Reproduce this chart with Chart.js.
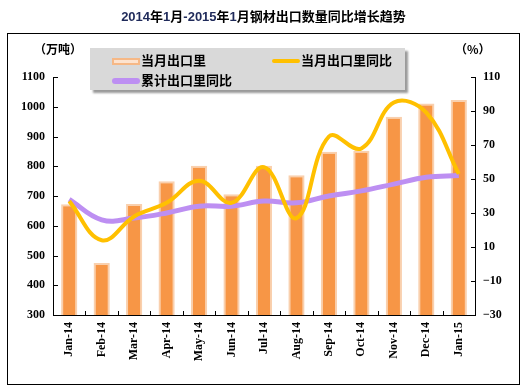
<!DOCTYPE html>
<html>
<head>
<meta charset="utf-8">
<script src="https://cdn.jsdelivr.net/npm/chart.js@4.4.1/dist/chart.umd.min.js"></script>
<style>
  body { margin: 0; background: #fff; }
  #wrap { position: relative; width: 527px; height: 390px; overflow: hidden; font-family: "Noto Sans CJK SC", sans-serif; }
  #chart { position: absolute; left: 0; top: 0; }
  .frame { position: absolute; left: 7px; top: 33px; width: 513px; height: 352px; border: 1px solid #000; box-sizing: border-box; }
  .title { position: absolute; left: 0; top: 6px; width: 527px; text-align: center; font-weight: bold; font-size: 13px; color: #000; }
  .title .num { font-family: "Liberation Sans", Arial, sans-serif; color: #1f2a5a; }
  .unit { position: absolute; top: 40px; font-weight: bold; font-size: 12px; }
  .legend { position: absolute; left: 90px; top: 48px; width: 315px; height: 42px; background: #d9d9d9; box-shadow: 3px 3px 2px #9a9a9a; }
  .item { position: absolute; font-weight: bold; font-size: 13px; line-height: 16px; white-space: nowrap; }
  .sw { display: inline-block; width: 28px; vertical-align: middle; margin-right: 1px; box-sizing: border-box; }
</style>
</head>
<body>
<div id="wrap">
  <canvas id="chart" width="527" height="390"></canvas>
  <div class="frame"></div>
  <div class="title"><span class="num">2014</span>年<span class="num">1</span>月<span class="num">-2015</span>年<span class="num">1</span>月钢材出口数量同比增长趋势</div>
  <div class="unit" style="left:34px;">（万吨）</div>
  <div class="unit" style="left:455px;">（%）</div>
  <div class="legend">
    <div class="item" style="left:22px; top:4px;"><span class="sw" style="height:7px; background:#fde3cf; border:2px solid #f6b886;"></span>当月出口里</div>
    <div class="item" style="left:182px; top:4px;"><span class="sw" style="height:4px; background:#ffc000; border-radius:2px;"></span>当月出口里同比</div>
    <div class="item" style="left:22px; top:24px;"><span class="sw" style="height:6px; background:#bd8ff2; border-radius:3px;"></span>累计出口里同比</div>
  </div>
</div>
<script>
// chart data
const months = ['Jan-14', 'Feb-14', 'Mar-14', 'Apr-14', 'May-14', 'Jun-14', 'Jul-14',
                'Aug-14', 'Sep-14', 'Oct-14', 'Nov-14', 'Dec-14', 'Jan-15'];
const monthlyExport = [672, 475, 673, 750, 802, 706, 802, 770, 849, 852, 966, 1011, 1023]; // 万吨
const monthlyYoy = [37, 14, 28, 36, 49, 36, 57, 27, 75, 68, 95, 89, 53];                    // %
const cumulativeYoy = [38, 26, 27, 30, 34, 34, 37, 36, 40, 43, 47, 51, 52];                 // %
const leftTicks = [300, 1100, 100];   // min, max, step
const rightTicks = [-30, 110, 20];

const tickFont = { family: '"Liberation Serif", "Times New Roman", serif', size: 12, weight: 'bold' };

// inward tick marks + axis lines, like the old excel look
const axisPlugin = {
    id: 'axisLines',
    afterDraw(chart) {
        const ctx = chart.ctx;
        const a = chart.chartArea;
        const y = chart.scales.y, y1 = chart.scales.y1, x = chart.scales.x;
        ctx.save();
        ctx.strokeStyle = '#000';
        ctx.lineWidth = 1;
        ctx.beginPath();
        ctx.moveTo(a.left + 0.5, a.top); ctx.lineTo(a.left + 0.5, a.bottom + 0.5);
        ctx.lineTo(a.right + 0.5, a.bottom + 0.5); ctx.lineTo(a.right + 0.5, a.top);
        y.ticks.forEach(t => {
            const py = Math.round(y.getPixelForValue(t.value)) + 0.5;
            ctx.moveTo(a.left, py); ctx.lineTo(a.left + 5, py);
        });
        y1.ticks.forEach(t => {
            const py = Math.round(y1.getPixelForValue(t.value)) + 0.5;
            ctx.moveTo(a.right - 4, py); ctx.lineTo(a.right + 1, py);
        });
        for (let i = 0; i < months.length - 1; i++) {
            const px = Math.round((x.getPixelForValue(i) + x.getPixelForValue(i + 1)) / 2) + 0.5;
            ctx.moveTo(px, a.bottom); ctx.lineTo(px, a.bottom - 4);
        }
        ctx.stroke();
        ctx.restore();
    }
};

new Chart(document.getElementById('chart'), {
    type: 'bar',
    data: {
        labels: months,
        datasets: [{
            type: 'line',
            label: '当月出口里同比',
            data: monthlyYoy,
            yAxisID: 'y1',
            borderColor: '#ffc000',
            borderWidth: 4,
            pointRadius: 0,
            tension: 0.4,
            order: 1
        }, {
            type: 'line',
            label: '累计出口里同比',
            data: cumulativeYoy,
            yAxisID: 'y1',
            borderColor: '#bd8ff2',
            borderWidth: 5,
            pointRadius: 0,
            tension: 0.4,
            order: 2
        }, {
            label: '当月出口里',
            data: monthlyExport,
            yAxisID: 'y',
            backgroundColor: '#f79646',
            borderColor: '#f9d0ae',
            borderWidth: 2,
            borderSkipped: false,
            barPercentage: 0.5,
            categoryPercentage: 1,
            order: 3
        }]
    },
    options: {
        responsive: false,
        animation: false,
        layout: { padding: { top: 77, left: 0, right: 0, bottom: 0 } },
        plugins: { legend: { display: false }, tooltip: { enabled: false } },
        scales: {
            x: {
                grid: { display: false, drawTicks: false },
                border: { display: false },
                ticks: { color: '#000', font: tickFont, minRotation: 90, maxRotation: 90, padding: 7, autoSkip: false },
                afterFit(s) { s.height = 75; }
            },
            y: {
                position: 'left',
                min: leftTicks[0], max: leftTicks[1],
                grid: { display: false, drawTicks: false },
                border: { display: false },
                ticks: { stepSize: leftTicks[2], color: '#000', font: tickFont, padding: 8, callback: v => String(v) },
                afterFit(s) { s.width = 53; }
            },
            y1: {
                position: 'right',
                min: rightTicks[0], max: rightTicks[1],
                grid: { display: false, drawTicks: false },
                border: { display: false },
                ticks: {
                    stepSize: rightTicks[2], color: '#000', font: tickFont, padding: 8,
                    callback: v => String(v).replace('-', '\u2212')
                },
                afterFit(s) { s.width = 52; }
            }
        }
    },
    plugins: [axisPlugin]
});
</script>
</body>
</html>
